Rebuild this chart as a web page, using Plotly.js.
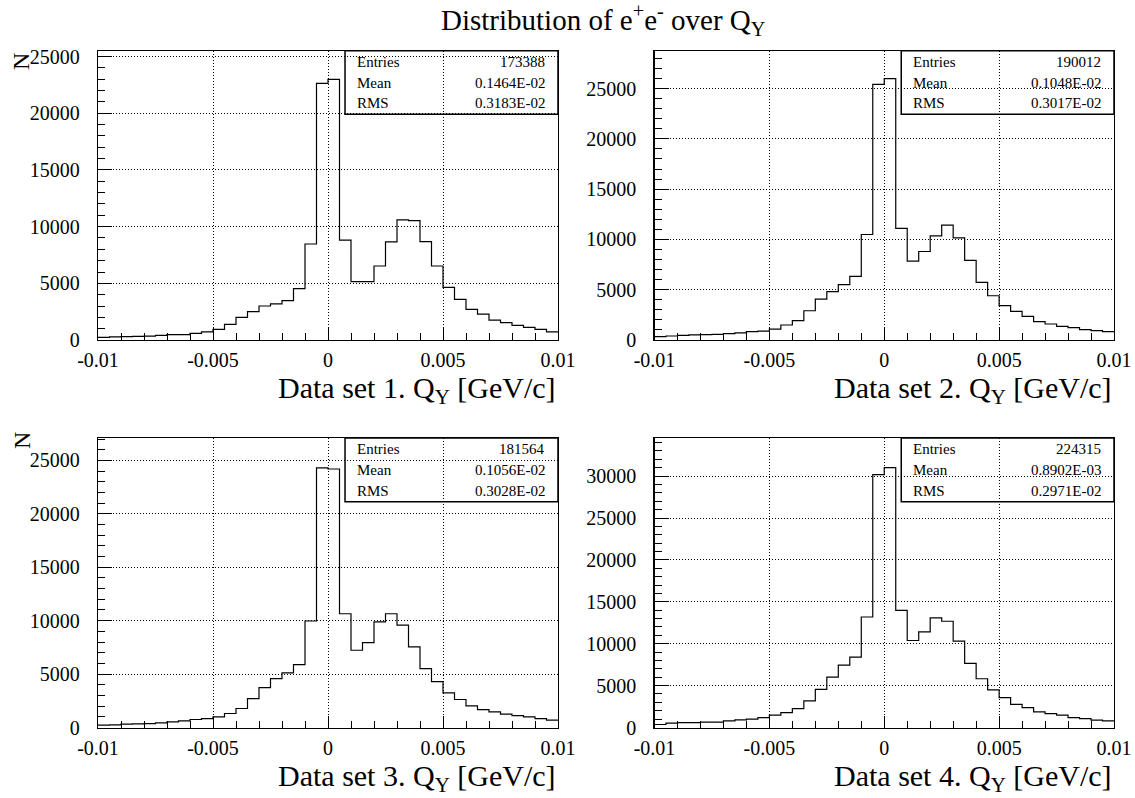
<!DOCTYPE html>
<html>
<head>
<meta charset="utf-8">
<script src="https://cdn.plot.ly/plotly-3.0.1.min.js"></script>
<style>
  html, body { margin: 0; padding: 0; background: #fff; }
  #chart { width: 1135px; height: 798px; }
</style>
</head>
<body>
<div id="chart"></div>
<script>
// Q_Y histograms: 40 bins from -0.01 to 0.01 GeV/c
const binLow = -0.01;
const binWidth = 0.0005;

const set1 = [240, 270, 290, 320, 350, 410, 470, 470, 590, 710,
              940, 1380, 2000, 2500, 3000, 3180, 3470, 4530, 8470, 22650,
              23000, 8820, 5150, 5150, 6530, 8650, 10590, 10530, 8680, 6530,
              4650, 3590, 2710, 2290, 1760, 1530, 1290, 1120, 940, 710];
const set2 = [330, 400, 460, 500, 530, 560, 630, 700, 830, 890,
              1090, 1490, 1920, 2910, 4070, 4800, 5500, 6320, 10490, 25420,
              25980, 11090, 7850, 8800, 10360, 11420, 10160, 7910, 5730, 4400,
              3410, 2850, 2350, 1820, 1590, 1360, 1230, 1030, 930, 830];
const set3 = [220, 250, 310, 340, 370, 440, 530, 620, 750, 840,
              1000, 1310, 1780, 2710, 3740, 4580, 5110, 5890, 9970, 24300,
              24200, 10650, 7230, 7940, 9880, 10650, 9590, 7540, 5510, 4300,
              3240, 2620, 2030, 1680, 1460, 1250, 1120, 1000, 840, 690];
const set4 = [360, 520, 590, 590, 630, 630, 790, 910, 990, 1190,
              1470, 1780, 2260, 3170, 4560, 6020, 7450, 8400, 13190, 30190,
              31020, 13990, 10380, 11410, 13080, 12680, 10300, 7650, 5820, 4480,
              3570, 2770, 2380, 1860, 1660, 1470, 1190, 1070, 870, 790];

const entries = ["173388", "190012", "181564", "224315"];
const means   = ["0.1464E-02", "0.1048E-02", "0.1056E-02", "0.8902E-03"];
const rmsVals = ["0.3183E-02", "0.3017E-02", "0.3028E-02", "0.2971E-02"];

const xTickVals = [-0.01, -0.005, 0, 0.005, 0.01];
const xTickText = ["-0.01", "-0.005", "0", "0.005", "0.01"];
const xTitles = ["Data set 1. Q<sub>Y</sub> [GeV/c]", "Data set 2. Q<sub>Y</sub> [GeV/c]",
                 "Data set 3. Q<sub>Y</sub> [GeV/c]", "Data set 4. Q<sub>Y</sub> [GeV/c]"];
const yTops = [25525, 28760, 27100, 34550];
const mainTitle = "Distribution of e<sup>+</sup>e<sup>-</sup> over Q<sub>Y</sub>";

const W = 1135, H = 798;
const FONT = "Liberation Serif";

// pad frames in pixels
const frames = [
  {l: 98,    r: 558,  t: 50.7, b: 340},
  {l: 654.5, r: 1114, t: 50.7, b: 340},
  {l: 98,    r: 558,  t: 438,  b: 727.5},
  {l: 654.5, r: 1114, t: 438,  b: 727.5}
];

const series = [set1, set2, set3, set4];
const edges = [];
for (let i = 0; i <= set1.length; i++) edges.push(binLow + i * binWidth);

const traces = [];
const layout = {
  width: W, height: H,
  margin: {l: 0, r: 0, t: 0, b: 0},
  paper_bgcolor: "#fff",
  plot_bgcolor: "rgba(0,0,0,0)",
  showlegend: false,
  font: {family: FONT, color: "#000", size: 20},
  annotations: [],
  shapes: []
};

series.forEach((vals, k) => {
  const n = k + 1;
  const xa = "x" + (n === 1 ? "" : n);
  const ya = "y" + (n === 1 ? "" : n);
  traces.push({
    type: "scatter", mode: "lines",
    x: edges,
    y: vals.concat([vals[vals.length - 1]]),
    line: {shape: "hv", color: "#000", width: 1.2},
    xaxis: xa, yaxis: ya, hoverinfo: "skip"
  });

  const f = frames[k];
  const axCommon = {
    showline: true, linecolor: "#000", linewidth: 1.2, mirror: true,
    ticks: "inside", tickcolor: "#000", tickwidth: 1,
    showgrid: true, gridcolor: "#000", gridwidth: 1, griddash: "1px,2px",
    zeroline: false, fixedrange: true,
    tickfont: {family: FONT, size: 20, color: "#000"}
  };
  layout["xaxis" + (n === 1 ? "" : n)] = Object.assign({}, axCommon, {
    domain: [f.l / W, f.r / W],
    anchor: ya,
    range: [binLow, binLow + set1.length * binWidth],
    tickmode: "array", tickvals: xTickVals, ticktext: xTickText,
    ticklen: 12, ticklabelstandoff: 2,
    minor: {dtick: 0.001, tick0: 0, ticks: "inside", ticklen: 7, tickcolor: "#000", showgrid: false}
  });
  layout["yaxis" + (n === 1 ? "" : n)] = Object.assign({}, axCommon, {
    domain: [1 - f.b / H, 1 - f.t / H],
    anchor: xa,
    range: [0, yTops[k]],
    dtick: 5000, tick0: 0, tickformat: "d",
    ticklen: 14, ticklabelstandoff: 13,
    minor: {dtick: 1000, tick0: 0, ticks: "inside", ticklen: 7, tickcolor: "#000", showgrid: false}
  });

  // statistics box
  const xd = xa + " domain", yd = ya + " domain";
  layout.shapes.push({
    type: "rect", xref: xd, yref: yd, x0: 0.537, x1: 1, y0: 0.78, y1: 1,
    line: {color: "#000", width: 1.5}, fillcolor: "rgba(0,0,0,0)"
  });
  const rows = [["Entries", entries[k]], ["Mean", means[k]], ["RMS", rmsVals[k]]];
  const rowY = [0.962, 0.889, 0.818];
  rows.forEach((r, i) => {
    layout.annotations.push({
      xref: xd, yref: yd, x: 0.559, y: rowY[i], xanchor: "left", yanchor: "middle",
      text: r[0], showarrow: false, font: {family: FONT, size: 15, color: "#000"}
    });
    layout.annotations.push({
      xref: xd, yref: yd, x: 0.977, y: rowY[i], xanchor: "right", yanchor: "middle",
      text: r[1], showarrow: false, font: {family: FONT, size: 15, color: "#000"}
    });
  });

  // x-axis title, right aligned at the end of the axis
  layout.annotations.push({
    xref: "paper", yref: "paper", x: f.r / W, y: 1 - (f.b + 50) / H,
    xanchor: "right", yanchor: "middle", text: xTitles[k], showarrow: false,
    font: {family: FONT, size: 30, color: "#000"}
  });
});

// y-axis titles on the left-hand pads
[[21, 62], [22, 441]].forEach(p => {
  layout.annotations.push({
    xref: "paper", yref: "paper", x: p[0] / W, y: 1 - p[1] / H,
    xanchor: "center", yanchor: "middle", textangle: -90, text: "N", showarrow: false,
    font: {family: FONT, size: 24, color: "#000"}
  });
});

layout.annotations.push({
  xref: "paper", yref: "paper", x: 603 / W, y: 1 - 20 / H, xanchor: "center", yanchor: "middle",
  text: mainTitle, showarrow: false, font: {family: FONT, size: 29, color: "#000"}
});

Plotly.newPlot("chart", traces, layout, {displayModeBar: false, staticPlot: true});
</script>
</body>
</html>
